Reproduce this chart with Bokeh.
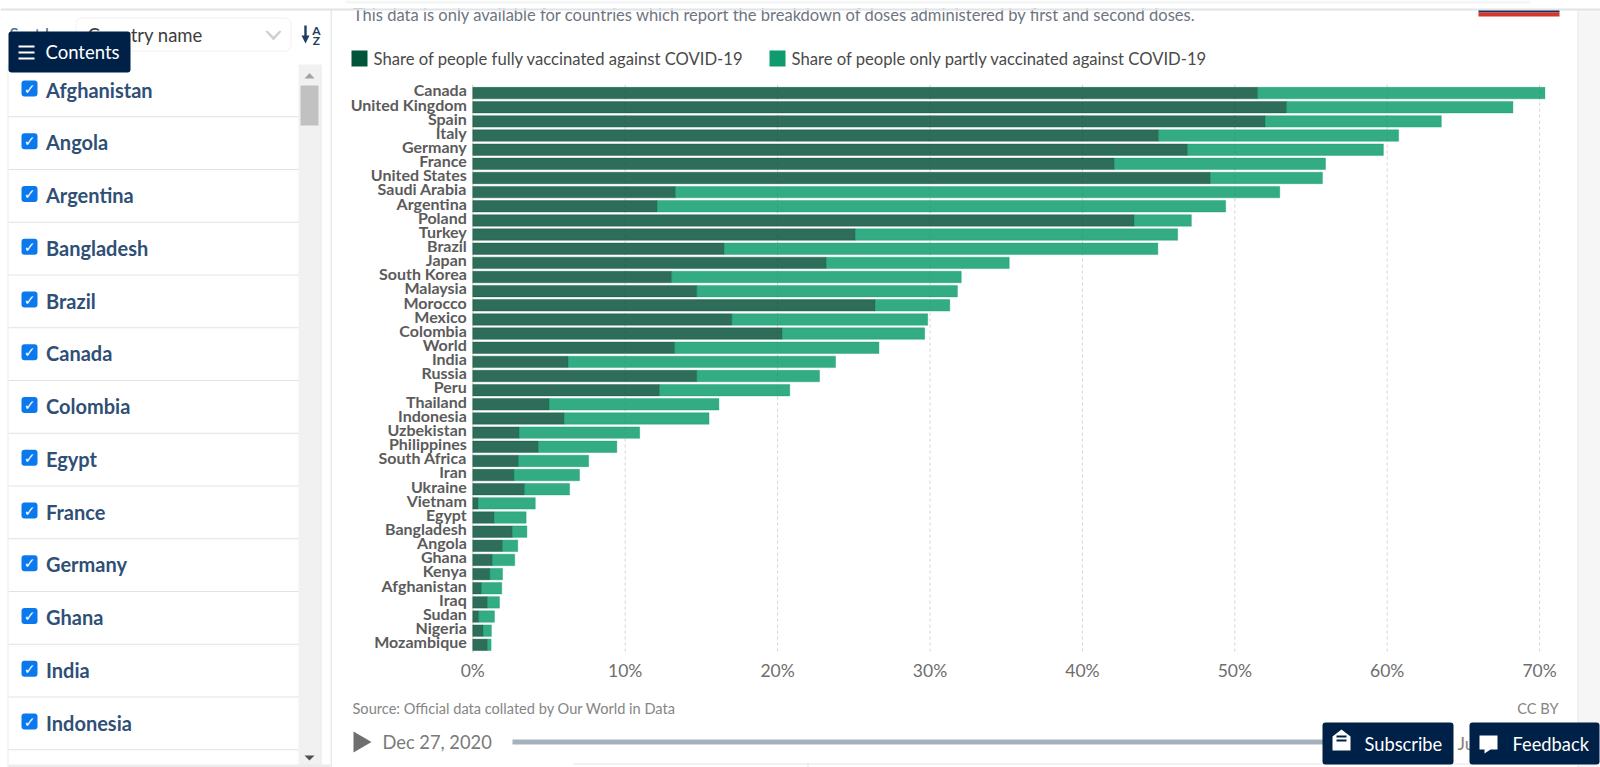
from bokeh.plotting import figure
from bokeh.models import (BoxAnnotation, Label, PolyAnnotation, Range1d, ColumnDataSource,
                          FixedTicker, PrintfTickFormatter)
from bokeh.embed import file_html
from bokeh.resources import INLINE

countries = ["Canada","United Kingdom","Spain","Italy","Germany","France","United States","Saudi Arabia",
             "Argentina","Poland","Turkey","Brazil","Japan","South Korea","Malaysia","Morocco","Mexico",
             "Colombia","World","India","Russia","Peru","Thailand","Indonesia","Uzbekistan","Philippines",
             "South Africa","Iran","Ukraine","Vietnam","Egypt","Bangladesh","Angola","Ghana","Kenya",
             "Afghanistan","Iraq","Sudan","Nigeria","Mozambique"]
fully = [51.5,53.4,52.0,45.0,46.9,42.1,48.4,13.3,12.1,43.4,25.1,16.5,23.2,13.05,14.7,26.4,17.0,20.3,13.25,6.25,
         14.7,12.25,5.0,6.0,3.05,4.3,3.0,2.7,3.4,0.35,1.4,2.6,1.95,1.29,1.12,0.57,0.96,0.39,0.68,0.96]
total = [70.35,68.25,63.55,60.75,59.75,55.95,55.75,52.95,49.4,47.15,46.25,44.95,35.2,32.05,31.8,31.3,29.85,29.65,26.65,23.8,
         22.75,20.8,16.15,15.5,10.95,9.45,7.6,7.0,6.35,4.1,3.5,3.55,2.95,2.75,1.95,1.9,1.75,1.42,1.22,1.2]
x_ticks = [0,10,20,30,40,50,60,70]
sidebar_items = ["Afghanistan","Angola","Argentina","Bangladesh","Brazil","Canada","Colombia","Egypt",
                 "France","Germany","Ghana","India","Indonesia"]
legend_labels = ["Share of people fully vaccinated against COVID-19",
                 "Share of people only partly vaccinated against COVID-19"]

W, H = 1600, 767
NAVY = "#002147"
PX_PER_PCT = 15.24
ZERO_X = 472.3
ROW = 14.147
ROW0_Y = 92.6
LABEL_LIFT = 3.2

rows = list(range(len(countries)))
p = figure(width=W, height=H, output_backend="svg", toolbar_location=None,
           x_range=Range1d(-ZERO_X / PX_PER_PCT, (W - ZERO_X) / PX_PER_PCT),
           y_range=Range1d((H - ROW0_Y) / ROW, -ROW0_Y / ROW),
           min_border=0, outline_line_color=None, background_fill_color="white", border_fill_color="white")
p.extra_y_ranges["labels"] = Range1d((H - ROW0_Y + LABEL_LIFT) / ROW, -(ROW0_Y - LABEL_LIFT) / ROW)

src = ColumnDataSource(dict(row=rows, fully=fully, total=total))
axis_row = (652 - ROW0_Y) / ROW
p.xgrid.grid_line_color = None
p.ygrid.grid_line_color = None
p.segment(x0=x_ticks[1:], x1=x_ticks[1:], y0=-0.6, y1=axis_row, line_color="#d4d4d4", line_dash="3 3")
p.segment(x0=[0], x1=[0], y0=[-0.6], y1=[axis_row], line_color="#cfcfcf")
p.hbar(y="row", left=0, right="fully", height=0.81, source=src,
       fill_color="#004d36", fill_alpha=0.82, line_color="#004d36", line_alpha=0.35)
p.hbar(y="row", left="fully", right="total", height=0.81, source=src,
       fill_color="#009765", fill_alpha=0.8, line_color="#009765", line_alpha=0.35)

xa = p.xaxis[0]
xa.fixed_location = axis_row
xa.ticker = FixedTicker(ticks=x_ticks)
xa.formatter = PrintfTickFormatter(format="%d%%")
xa.axis_line_color = None
xa.major_tick_line_color = None
xa.minor_tick_line_color = None
xa.major_tick_out = 0
xa.major_tick_in = 0
xa.major_label_text_font = "Lato"
xa.major_label_text_font_size = "17.5px"
xa.major_label_text_color = "#6e6e6e"
xa.major_label_standoff = 7
ya = p.yaxis[0]
ya.y_range_name = "labels"
ya.fixed_location = 0
ya.ticker = FixedTicker(ticks=rows)
ya.major_label_overrides = {i: name for i, name in enumerate(countries)}
ya.axis_line_color = None
ya.major_tick_line_color = None
ya.minor_tick_line_color = None
ya.major_tick_out = 0
ya.major_tick_in = 0
ya.major_label_text_font = "Lato"
ya.major_label_text_font_size = "16px"
ya.major_label_text_font_style = "bold"
ya.major_label_text_color = "#5b5b5b"
ya.major_label_standoff = 6


def box(x0, y0, x1, y1, color, line=None, radius=0, alpha=1.0):
    p.add_layout(BoxAnnotation(left=x0, right=x1, top=H-y0, bottom=H-y1,
                               left_units="screen", right_units="screen", top_units="screen", bottom_units="screen",
                               fill_color=color, fill_alpha=alpha, line_color=line, border_radius=radius,
                               editable=False))


def text(x, y, s, size, color, font="Lato", align="left", style="normal"):
    p.add_layout(Label(x=x, y=H-y, x_units="screen", y_units="screen", text=s, text_font=font,
                       text_font_size=f"{size}px", text_color=color, text_align=align,
                       text_baseline="middle", text_font_style=style))


def poly(points, color):
    p.add_layout(PolyAnnotation(xs=[a for a, b in points], ys=[H-b for a, b in points],
                                xs_units="screen", ys_units="screen", fill_color=color, fill_alpha=1.0,
                                line_color=None, editable=False))


# page surroundings
box(1578, 9, 1600, 767, "#f6f6f7")
box(1577, 9, 1578, 767, "#e4e6e9")
box(330, 9, 331.5, 767, "#e8eaec")

# heading, logo and legend
text(352.5, 14.5, "This data is only available for countries which report the breakdown of doses administered by first and second doses.", 16.55, "#6e7581")
box(0, 0, 1600, 8, "white")
box(345, 0, 1530, 3, "#f4f5f6")
box(0, 8, 1600, 10, "#e2e3e5")
box(1478, 10, 1559, 12, "#18305a")
box(1478, 12, 1559, 16, "#d8342a")

box(351, 50, 367, 66, "#00543a")
text(373, 58, legend_labels[0], 16.65, "#4a4a4a")
box(769, 50, 785, 66, "#0e9b6e")
text(791, 58, legend_labels[1], 16.65, "#4a4a4a")

# footer
text(352, 708, "Source: Official data collated by Our World in Data", 14.6, "#858585")
text(1558, 708, "CC BY", 14.6, "#858585", align="right")
poly([(353, 731), (371, 741.5), (353, 752)], "#6f6f6f")
text(382, 741, "Dec 27, 2020", 18.3, "#7a7a7a")
box(512, 739, 1330, 744, "#a7b1bd")
text(1457, 742, "Ju", 18, "#8d7f78")
box(573, 763, 1577, 764, "#e6e6e6")
box(807, 763, 808, 767, "#e6e6e6")

# sort controls
text(9, 34, "Sort by", 17, "#4d6a8d")
box(75.5, 17.5, 290.5, 50.5, "white", line="#d2d2d2", radius=6)
text(87, 34, "Country name", 18.5, "#3d3d3d")
poly([(265, 31), (267, 30), (273, 36), (279, 30), (281, 31), (273, 40)], "#cfcfcf")
box(303.8, 25, 306.2, 38, "#1d3d63")
poly([(301, 35), (309, 35), (305, 43)], "#1d3d63")
text(316, 29.5, "A", 12, "#1d3d63", align="center", style="bold")
text(316, 39.5, "Z", 12, "#1d3d63", align="center", style="bold")

# country list
box(8, 64, 298, 767, "#ffffff")
box(7, 64, 8, 767, "#ececec")
box(298, 64, 320, 767, "#f1f1f1")
box(320, 64, 321, 767, "#e5e5e5")
box(300, 85, 318, 125, "#c1c1c1")
poly([(304, 78), (309, 72.5), (314, 78)], "#a3a3a3")
poly([(304, 755), (309, 760), (314, 755)], "#505050")
for i, name in enumerate(sidebar_items):
    yc = 89 + i * 52.75
    box(8, yc + 26.7, 298, yc + 27.7, "#dde3ec")
    box(21, yc - 9, 37, yc + 7, "#0b79ee", radius=3)
    text(29, yc - 1, "✓", 14, "white", font="DejaVu Sans", align="center", style="bold")
    text(45.5, yc, name, 20, "#2f4f76", style="bold")
box(8, 764, 330, 767, "#ececec")

# contents button
box(8, 31, 130, 72, NAVY, radius=3)
for yy in (45, 51, 57):
    box(18, yy, 34, yy + 2, "white")
text(45, 51.5, "Contents", 18.5, "white")

# fixed buttons
box(1322, 722, 1453, 764, NAVY, radius=3)
poly([(1332, 736), (1341, 729), (1350, 736), (1350, 750), (1332, 750)], "white")
box(1336, 735, 1346, 737, NAVY)
box(1336, 739, 1346, 741, NAVY)
text(1364, 743, "Subscribe", 18.3, "white")
box(1469, 722, 1599, 764, NAVY, radius=3)
poly([(1479, 735), (1497, 735), (1497, 749), (1490, 749), (1484, 753), (1484, 749), (1479, 749)], "white")
text(1512, 743, "Feedback", 18.3, "white")

open("out.html", "w").write(file_html(p, INLINE))
